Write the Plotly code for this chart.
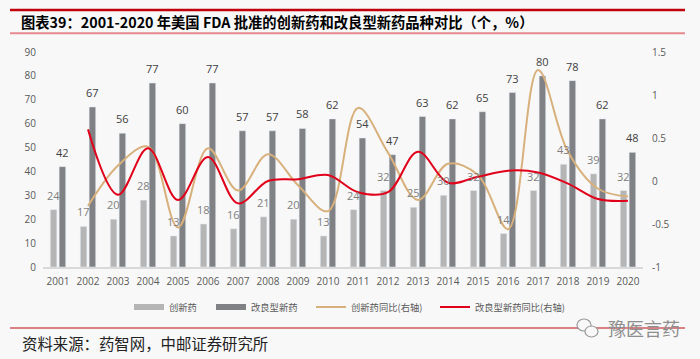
import plotly.graph_objects as go

# ---------------- data ----------------
years = ["2001", "2002", "2003", "2004", "2005", "2006", "2007", "2008", "2009", "2010",
         "2011", "2012", "2013", "2014", "2015", "2016", "2017", "2018", "2019", "2020"]
innovative = [24, 17, 20, 28, 13, 18, 16, 21, 20, 13, 24, 32, 25, 30, 32, 14, 32, 43, 39, 32]
improved = [42, 67, 56, 77, 60, 77, 57, 57, 58, 62, 54, 47, 63, 62, 65, 73, 80, 78, 62, 48]
innovative_yoy = [None, -0.29, 0.18, 0.40, -0.54, 0.38, -0.11, 0.31, -0.05, -0.35,
                  0.85, 0.33, -0.22, 0.20, 0.07, -0.56, 1.29, 0.34, -0.09, -0.18]
improved_yoy = [None, 0.60, -0.16, 0.38, -0.22, 0.28, -0.26, 0.00, 0.02, 0.07,
                -0.13, -0.13, 0.34, -0.02, 0.05, 0.12, 0.10, -0.03, -0.21, -0.23]
left_ticks = [0, 10, 20, 30, 40, 50, 60, 70, 80, 90]
right_ticks = [-1, -0.5, 0, 0.5, 1, 1.5]
right_tick_text = ["-1", "-0.5", "0", "0.5", "1", "1.5"]

names = ["创新药", "改良型新药", "创新药同比(右轴)", "改良型新药同比(右轴)"]
title = "图表39：2001-2020 年美国 FDA 批准的创新药和改良型新药品种对比（个，%）"
source = "资料来源：药智网，中邮证券研究所"
watermark = "豫医言药"

# ---------------- style ----------------
W, H = 700, 359
ML, MR, MT, MB = 43, 57, 52, 92
BARGAP, BARGROUPGAP = 0.41, 0.26
LIGHT = "#b5b5b5"
DARK = "#7f8184"
TAN = "#d8b07c"
RED = "#e1001a"
BG = "#f8f8f8"
TICK = "#595959"
FONT = "Open Sans, Noto Sans CJK SC"
CJK = "Noto Sans CJK SC"
legend_x_px = [129, 211, 311, 435]   # left edge of each legend entry (px)
legend_y_px = 307

pw, ph = W - ML - MR, H - MT - MB


def px_x(p):
    return (p - ML) / pw


def px_y(p):
    return (H - MB - p) / ph


fig = go.Figure()

fig.add_bar(x=years, y=innovative, name=names[0], marker_color=LIGHT, showlegend=False)
fig.add_bar(x=years, y=improved, name=names[1], marker_color=DARK, showlegend=False)

# legend proxies for bars (wide rectangles like the original)
fig.add_scatter(x=[None], y=[None], mode="lines", name=names[0],
                line=dict(color=LIGHT, width=6), legend="legend")
fig.add_scatter(x=[None], y=[None], mode="lines", name=names[1],
                line=dict(color=DARK, width=6), legend="legend2")

fig.add_scatter(x=years, y=innovative_yoy, mode="lines", name=names[2], yaxis="y2",
                line=dict(color=TAN, width=2, shape="spline", smoothing=1.0),
                legend="legend3")
fig.add_scatter(x=years, y=improved_yoy, mode="lines", name=names[3], yaxis="y2",
                line=dict(color=RED, width=2, shape="spline", smoothing=1.0),
                legend="legend4")

# value labels above bars (category axis -> annotation x is the category index)
slot_px = pw / len(years) * (1 - BARGAP) / 2
for vals, shift, color in ((innovative, -slot_px / 2, "#7f7f7f"),
                           (improved, slot_px / 2, "#404040")):
    for i, v in enumerate(vals):
        fig.add_annotation(x=i, y=v, text=str(v), showarrow=False,
                           xshift=shift, yshift=14.5, yanchor="middle",
                           font=dict(family=FONT, size=11, color=color))

legend_common = dict(orientation="h", xanchor="left", yanchor="middle",
                     y=px_y(legend_y_px), bgcolor="rgba(0,0,0,0)",
                     font=dict(family=CJK, size=9.3, color=TICK))

fig.update_layout(
    width=W, height=H,
    margin=dict(l=ML, r=MR, t=MT, b=MB, pad=0),
    paper_bgcolor=BG, plot_bgcolor=BG,
    font=dict(family=FONT, size=10, color=TICK),
    barmode="group", bargap=BARGAP, bargroupgap=BARGROUPGAP,
    xaxis=dict(type="category", range=[-0.5, len(years) - 0.5], autorange=False,
               showgrid=False, zeroline=False,
               showline=True, linecolor="#d9d9d9", linewidth=1.5,
               ticks="", tickfont=dict(size=10, color=TICK), ticklabelstandoff=4),
    yaxis=dict(range=[0, 90], tickvals=left_ticks, showgrid=False, zeroline=False,
               showline=False, ticks="", tickfont=dict(size=10, color=TICK),
               ticklabelstandoff=6),
    yaxis2=dict(range=[-1, 1.5], tickvals=right_ticks, ticktext=right_tick_text,
                overlaying="y", side="right", showgrid=False, zeroline=False,
                showline=False, ticks="", tickfont=dict(size=10, color=TICK),
                ticklabelstandoff=8),
    legend=dict(x=px_x(legend_x_px[0]), **legend_common),
    legend2=dict(x=px_x(legend_x_px[1]), **legend_common),
    legend3=dict(x=px_x(legend_x_px[2]), **legend_common),
    legend4=dict(x=px_x(legend_x_px[3]), **legend_common),
    title=dict(text="<b>" + title + "</b>", xref="container", yref="container",
               x=21 / W, xanchor="left", y=1 - 22.7 / H, yanchor="middle",
               font=dict(family=CJK, size=14.3, color="#000000")),
    showlegend=True,
)

# decorative rules
fig.add_shape(type="line", xref="paper", yref="paper",
              x0=px_x(10), x1=px_x(685), y0=px_y(10), y1=px_y(10),
              line=dict(color="#c0000b", width=2.5))
fig.add_shape(type="line", xref="paper", yref="paper",
              x0=px_x(10), x1=px_x(685), y0=px_y(33.3), y1=px_y(33.3),
              line=dict(color="#e58a8f", width=2))
fig.add_shape(type="line", xref="paper", yref="paper",
              x0=px_x(10), x1=px_x(685), y0=px_y(328), y1=px_y(328),
              line=dict(color="#d05a5f", width=1.5))

fig.add_annotation(text=source, xref="paper", yref="paper",
                   x=px_x(20), xanchor="left", y=px_y(343), yanchor="middle",
                   showarrow=False, font=dict(family=CJK, size=15.4, color="#222222"))

# watermark
fig.add_shape(type="circle", xref="paper", yref="paper",
              x0=px_x(577), x1=px_x(591), y0=px_y(319), y1=px_y(331),
              line=dict(color="#9a9a9a", width=1.2), fillcolor=BG)
fig.add_shape(type="circle", xref="paper", yref="paper",
              x0=px_x(585), x1=px_x(598), y0=px_y(326), y1=px_y(337),
              line=dict(color="#9a9a9a", width=1.2), fillcolor=BG)
fig.add_annotation(text=watermark, xref="paper", yref="paper",
                   x=px_x(644), xanchor="center", y=px_y(328), yanchor="middle",
                   showarrow=False, font=dict(family=CJK, size=18, color="#8e8e8e"))

fig.write_html("out.html", post_script="document.body.style.margin='0';",
               config={"displayModeBar": False})
